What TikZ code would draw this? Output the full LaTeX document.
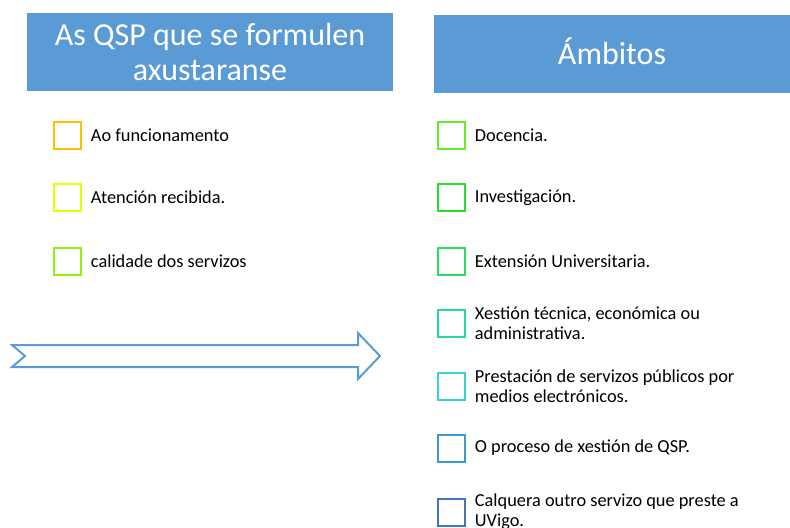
\documentclass[tikz,border=0pt]{standalone}
\usepackage{fontspec}
\setmainfont{Carlito}
\usepackage{tikz}
\usetikzlibrary{positioning}

\definecolor{hdrblue}{RGB}{91,155,213}
\definecolor{cOrange}{RGB}{255,192,0}
\definecolor{cYellow}{RGB}{228,255,0}
\definecolor{cLime}{RGB}{146,240,10}
\definecolor{cGreenA}{RGB}{100,238,40}
\definecolor{cGreenB}{RGB}{40,222,40}
\definecolor{cGreenC}{RGB}{40,220,100}
\definecolor{cTeal}{RGB}{40,216,160}
\definecolor{cCyan}{RGB}{56,210,210}
\definecolor{cSky}{RGB}{60,155,210}
\definecolor{cBlue}{RGB}{68,114,196}

\tikzset{
	hdr/.style={fill=hdrblue, text=white, align=center, inner sep=0pt, font=\fontsize{24}{26.25}\selectfont},
	chk/.style={draw, line width=1.5pt, minimum size=20.25pt, inner sep=0pt},
	itm/.style={right=6.5pt of #1, anchor=west, align=left, inner sep=0pt, font=\fontsize{13.75}{15}\selectfont}
}

\begin{document}
\begin{tikzpicture}[x=0.75pt,y=0.75pt,yscale=-1]
	\useasboundingbox (0,0) rectangle (790,528);
	
	%headers
	\node[hdr, minimum width=274.5pt, minimum height=58.5pt] (hdrL) at (210,52) {As QSP que se formulen\\axustaranse};
	\node[hdr, minimum width=267pt, minimum height=58.5pt, text depth=4pt] (hdrR) at (612,54) {Ámbitos};
	
	%left list
	\node[chk, cOrange] (bxA) at (67.5,135.5) {};
	\node[itm=bxA] (txA) {Ao funcionamento};
	
	\node[chk, cYellow] (bxB) at (67.5,197.5) {};
	\node[itm=bxB] (txB) {Atención recibida.};
	
	\node[chk, cLime] (bxC) at (67.5,261) {};
	\node[itm=bxC] (txC) {calidade dos servizos};
	
	%arrow
	\draw[hdrblue, line width=1.5pt, line join=miter] (12,345) -- (358,345) -- (358,333) -- (380,356) -- (358,379) -- (358,367) -- (12,367) -- (25,356) -- cycle;
	
	%right list
	\node[chk, cGreenA] (bx1) at (451.5,135.5) {};
	\node[itm=bx1] (tx1) {Docencia.};
	
	\node[chk, cGreenB] (bx2) at (451.5,197.5) {};
	\node[itm=bx2] (tx2) {Investigación.};
	
	\node[chk, cGreenC] (bx3) at (451.5,261) {};
	\node[itm=bx3] (tx3) {Extensión Universitaria.};
	
	\node[chk, cTeal] (bx4) at (451.5,323) {};
	\node[itm=bx4] (tx4) {Xestión técnica, económica ou\\administrativa.};
	
	\node[chk, cCyan] (bx5) at (451.5,386) {};
	\node[itm=bx5] (tx5) {Prestación de servizos públicos por\\medios electrónicos.};
	
	\node[chk, cSky] (bx6) at (451.5,448) {};
	\node[itm=bx6] (tx6) {O proceso de xestión de QSP.};
	
	\node[chk, cBlue] (bx7) at (451.5,512) {};
	\node[itm=bx7] (tx7) {Calquera outro servizo que preste a\\UVigo.};
	
\end{tikzpicture}
\end{document}
